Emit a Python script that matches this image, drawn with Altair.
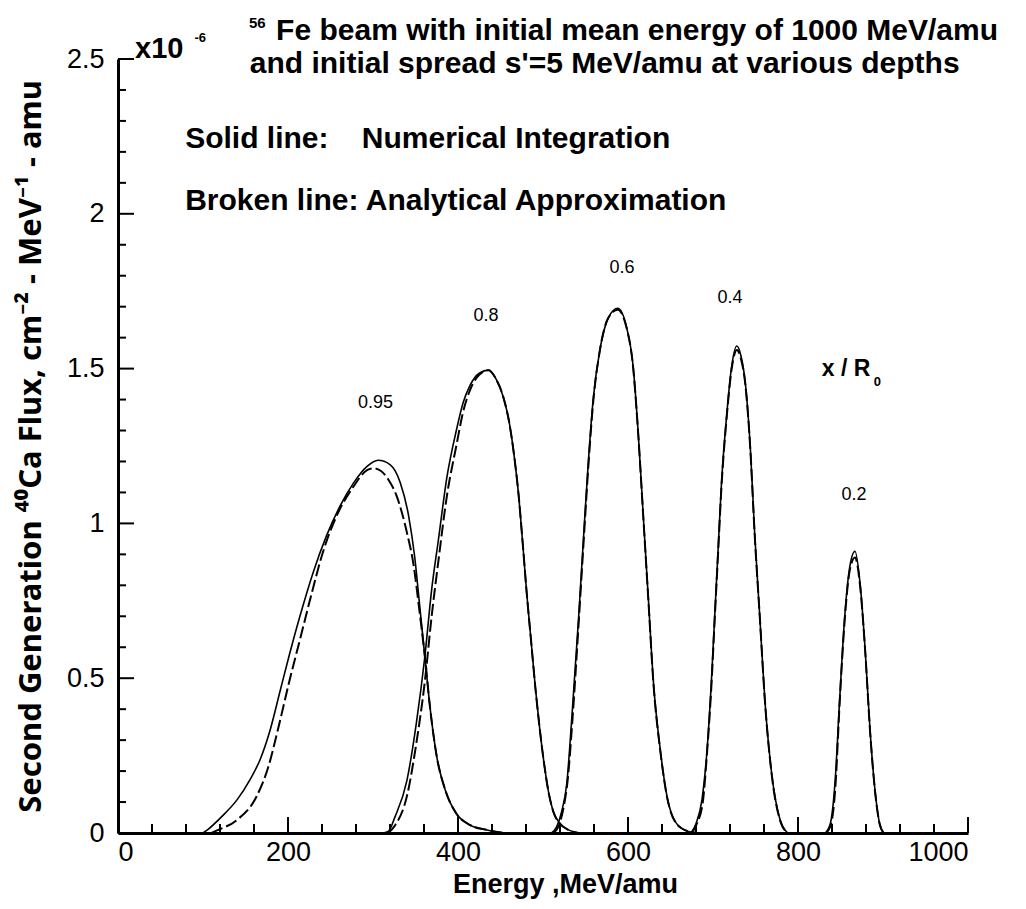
import altair as alt
import pandas as pd

# ---------------- data ----------------
DEPTHS = ["0.95", "0.8", "0.6", "0.4", "0.2"]

# Solid lines: numerical integration  (E in MeV/amu, flux in 1e-6 units)
S_E = {
    "0.95": [100, 106, 122, 140, 155, 167, 179, 191, 202, 214, 230, 245, 261, 277, 293, 306, 320, 332, 342, 349, 355, 361, 367, 375, 385, 398, 414, 434, 455],
    "0.8": [312, 318, 326, 340, 351, 361, 369, 377, 387, 398, 406, 414, 425, 436, 445, 453, 460, 466, 471, 476, 481, 486, 491, 496, 501, 506, 512, 520, 530, 542],
    "0.6": [510, 516, 522, 528, 534, 542, 548, 553, 559, 567, 577, 588, 598, 606, 612, 618, 624, 630, 638, 646, 657, 670, 682],
    "0.4": [674, 680, 687, 693, 698, 702, 706, 710, 716, 722, 728, 733, 738, 744, 749, 755, 761, 769, 779, 788],
    "0.2": [832, 838, 843.5, 849, 855, 861, 867, 873, 879, 885, 891, 896, 901],
}
S_F = {
    "0.95": [0.0, 0.012, 0.053, 0.107, 0.171, 0.236, 0.333, 0.462, 0.580, 0.700, 0.845, 0.958, 1.055, 1.130, 1.184, 1.204, 1.190, 1.132, 1.023, 0.893, 0.732, 0.570, 0.408, 0.247, 0.139, 0.063, 0.026, 0.010, 0.0],
    "0.8": [0.0, 0.005, 0.053, 0.171, 0.355, 0.570, 0.786, 0.948, 1.15, 1.30, 1.39, 1.445, 1.485, 1.495, 1.465, 1.411, 1.33, 1.22, 1.10, 0.94, 0.77, 0.62, 0.47, 0.34, 0.23, 0.14, 0.07, 0.03, 0.01, 0.0],
    "0.6": [0.0, 0.02, 0.07, 0.16, 0.376, 0.70, 0.969, 1.185, 1.40, 1.562, 1.665, 1.695, 1.637, 1.508, 1.293, 1.023, 0.754, 0.484, 0.268, 0.117, 0.031, 0.006, 0.0],
    "0.4": [0.0, 0.03, 0.107, 0.268, 0.484, 0.70, 0.915, 1.131, 1.346, 1.508, 1.573, 1.54, 1.454, 1.239, 0.969, 0.70, 0.43, 0.193, 0.042, 0.0],
    "0.2": [0.0, 0.03, 0.161, 0.43, 0.70, 0.861, 0.91, 0.807, 0.592, 0.322, 0.128, 0.03, 0.0],
}

# Broken lines: analytical approximation
D_E = {
    "0.95": [110, 118, 140, 163, 177, 189, 202, 214, 226, 242, 257, 277, 293, 301, 309, 318, 328, 340, 348, 354, 361, 367, 375, 385, 398, 414, 434, 455],
    "0.8": [318, 326, 340, 351, 361, 369, 377, 387, 398, 406, 414, 425, 436, 445, 453, 460, 466, 471, 476, 481, 486, 491, 496, 501, 506, 512, 520, 530, 542],
    "0.6": [512, 518, 524, 529, 535, 542, 548, 553, 559, 567, 577, 588, 598, 606, 612, 618, 624, 630, 638, 646, 657, 670, 682],
    "0.4": [675, 681, 688, 693, 698, 702, 706, 710, 716, 722, 728, 733, 738, 744, 749, 755, 761, 769, 779, 788],
    "0.2": [833, 839, 844, 849, 855, 861, 867, 873, 879, 885, 891, 896, 901],
}
D_F = {
    "0.95": [0.0, 0.010, 0.042, 0.118, 0.215, 0.344, 0.495, 0.624, 0.754, 0.915, 1.023, 1.119, 1.172, 1.178, 1.170, 1.142, 1.087, 0.969, 0.861, 0.732, 0.570, 0.408, 0.247, 0.139, 0.063, 0.026, 0.010, 0.0],
    "0.8": [0.0, 0.025, 0.12, 0.29, 0.49, 0.70, 0.88, 1.09, 1.25, 1.36, 1.43, 1.48, 1.495, 1.465, 1.411, 1.33, 1.22, 1.10, 0.94, 0.77, 0.62, 0.47, 0.34, 0.23, 0.14, 0.07, 0.03, 0.01, 0.0],
    "0.6": [0.0, 0.02, 0.08, 0.17, 0.38, 0.68, 0.95, 1.17, 1.39, 1.56, 1.665, 1.69, 1.635, 1.505, 1.29, 1.02, 0.75, 0.48, 0.265, 0.115, 0.03, 0.006, 0.0],
    "0.4": [0.0, 0.03, 0.10, 0.26, 0.47, 0.69, 0.905, 1.12, 1.34, 1.50, 1.56, 1.53, 1.45, 1.235, 0.965, 0.70, 0.43, 0.19, 0.04, 0.0],
    "0.2": [0.0, 0.03, 0.15, 0.42, 0.69, 0.85, 0.89, 0.80, 0.59, 0.32, 0.125, 0.03, 0.0],
}

# axis ticks
X_MAJOR = [0, 200, 400, 600, 800, 1000]
X_MINOR = [v for v in range(0, 1001, 40) if v % 200 != 0]
Y_MAJOR = [0, 0.5, 1.0, 1.5, 2.0, 2.5]
Y_MINOR = [round(i / 10, 1) for i in range(0, 26) if i % 5 != 0]

# annotation texts
PEAK_LABELS = ["0.95", "0.8", "0.6", "0.4", "0.2"]
PEAK_X = [303, 433, 593, 720, 866]
PEAK_Y = [1.373, 1.654, 1.809, 1.712, 1.076]

TITLE_TEXT = [
    "Fe beam with initial mean energy of 1000 MeV/amu",
    "and initial spread s'=5 MeV/amu at various depths",
]
TITLE_X = [186, 155]
TITLE_Y = [2.561, 2.455]

NOTE_TEXT = [
    "Solid line:\u00a0\u00a0\u00a0 Numerical Integration",
    "Broken line: Analytical Approximation",
]
NOTE_X = [79, 79]
NOTE_Y = [2.213, 2.012]

Y_TITLE = "Second Generation \u2074\u2070Ca Flux, cm\u207b\u00b2 - MeV\u207b\u00b9 - amu"
X_TITLE = "Energy ,MeV/amu"

# ---------------- build tables ----------------
def long_table(E, F):
    rows = []
    for d in DEPTHS:
        for e, f in zip(E[d], F[d]):
            rows.append({"E": e, "F": f, "depth": d})
    return pd.DataFrame(rows)

solid_df = long_table(S_E, S_F)
dash_df = long_table(D_E, D_F)

xs = alt.Scale(domain=[0, 1000], nice=False, zero=False)
ys = alt.Scale(domain=[0, 2.5], nice=False)

H = 774
W = 850
FONT = "Liberation Sans, Arial, sans-serif"
NARROW = "Liberation Sans Narrow, Liberation Sans, sans-serif"

x_axis = alt.Axis(
    values=X_MAJOR, format="d", title=X_TITLE, ticks=False, tickSize=0,
    grid=False, domainWidth=3, domainColor="black",
    labelFont=NARROW, labelFontSize=27, labelColor="black", labelPadding=6,
    titleFont=FONT, titleFontSize=27, titleFontWeight="bold", titleColor="black",
    titleX=447, titleY=59, titleBaseline="alphabetic",
)
y_axis = alt.Axis(
    values=Y_MAJOR, format=".1~f", title=Y_TITLE,
    ticks=False, tickSize=0, grid=False, domainWidth=3, domainColor="black",
    labelFont=FONT, labelFontSize=27, labelColor="black", labelPadding=14,
    titleFont="Noto Sans, DejaVu Sans, sans-serif", titleFontSize=31, titleFontWeight="bold",
    titleColor="black", titleX=-78, titleBaseline="alphabetic", titleAngle=270,
)

solid = alt.Chart(solid_df).mark_line(color="black", strokeWidth=1.6, interpolate="monotone").encode(
    x=alt.X("E:Q", scale=xs, axis=x_axis),
    y=alt.Y("F:Q", scale=ys, axis=y_axis),
    detail="depth:N",
)
dashed = alt.Chart(dash_df).mark_line(color="black", strokeWidth=2, strokeDash=[12, 4], interpolate="monotone").encode(
    x=alt.X("E:Q", scale=xs),
    y=alt.Y("F:Q", scale=ys),
    detail="depth:N",
)

def xticks(vals, length):
    return alt.Chart(pd.DataFrame({"v": vals})).mark_rule(color="black", strokeWidth=2).encode(
        x=alt.X("v:Q", scale=xs), y=alt.value(H), y2=alt.value(H - length))

def yticks(vals, length):
    return alt.Chart(pd.DataFrame({"v": vals})).mark_rule(color="black", strokeWidth=2).encode(
        y=alt.Y("v:Q", scale=ys), x=alt.value(0), x2=alt.value(length))

def texts(labels, xv, yv, size, weight="normal", align="left", font=FONT):
    df = pd.DataFrame({"t": labels, "x": xv, "y": yv})
    return alt.Chart(df).mark_text(align=align, baseline="alphabetic", font=font, fontSize=size,
                                   fontWeight=weight, color="black").encode(
        x=alt.X("x:Q", scale=xs), y=alt.Y("y:Q", scale=ys), text="t:N")

layers = [
    solid, dashed,
    xticks(X_MINOR, 9), xticks(X_MAJOR, 16), yticks(Y_MINOR, 8), yticks(Y_MAJOR, 16),
    texts(PEAK_LABELS, PEAK_X, PEAK_Y, 18, align="center"),
    texts(TITLE_TEXT, TITLE_X, TITLE_Y, 30, weight="bold"),
    texts(NOTE_TEXT, NOTE_X, NOTE_Y, 30, weight="bold"),
    texts(["56"], [154], [2.600], 15, weight="bold"),
    texts(["x10"], [20], [2.503], 29, weight="bold"),
    texts(["-6"], [90], [2.555], 13, weight="bold"),
    texts(["x / R"], [828], [1.476], 23, weight="bold"),
    texts(["0"], [889], [1.444], 13, weight="bold"),
]

chart = alt.layer(*layers).properties(
    width=W, height=H,
    autosize=alt.AutoSizeParams(type="none"),
    padding={"left": 110, "top": 51, "right": 50, "bottom": 68},
    background="white",
).configure_view(stroke=None)

chart.save("out.html", embed_options={"renderer": "svg", "actions": False})
